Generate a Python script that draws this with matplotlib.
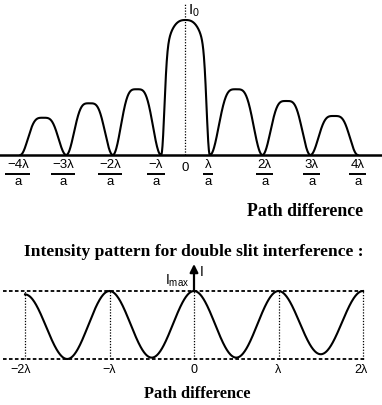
import numpy as np
import matplotlib
matplotlib.use("Agg")
import matplotlib.pyplot as plt

plt.rcParams['font.family'] = ['Liberation Sans', 'DejaVu Sans']
plt.rcParams['mathtext.fontset'] = 'custom'
plt.rcParams['mathtext.rm'] = 'Liberation Sans'
plt.rcParams['mathtext.it'] = 'Liberation Sans:italic'
plt.rcParams['mathtext.bf'] = 'Liberation Sans:bold'

# ---------------- single slit diffraction (schematic) ----------------
ss_edges = [-3.47, -2.50, -1.52, -0.505, 0.526, 1.63, 2.64, 3.64]   # minima positions
ss_heights = [0.276, 0.383, 0.487, 1.0, 0.487, 0.40, 0.289]         # relative peak intensity
ss_tick_pos = [-3.52, -2.57, -1.58, -0.61, 0.0, 0.48, 1.68, 2.67, 3.64]
ss_tick_num = ['−4λ', '−3λ', '−2λ', '−λ', '0', 'λ', '2λ', '3λ', '4λ']
ss_tick_den = ['a', 'a', 'a', 'a', '', 'a', 'a', 'a', 'a']

# ---------------- double slit interference ----------------
ds_x = [-2.0, -1.5, -1.0, -0.5, 0.0, 0.5, 1.0, 1.5, 2.0]
ds_I = [0.95, 0.0, 1.0, 0.02, 1.0, 0.02, 1.0, 0.07, 1.0]
ds_ticks = [-2, -1, 0, 1, 2]
ds_label_pos = [-2.05, -1.0, 0.0, 1.0, 1.98]
ds_labels = ['−2λ', '−λ', '0', 'λ', '2λ']

W, H = 382, 405
fig = plt.figure(figsize=(W / 100, H / 100), dpi=100)

# ---------- top panel ----------
ax1 = fig.add_axes([0, 1 - 200 / H, 1, 200 / H])
ax1.set_xlim(-185 / 47.5, (W - 185) / 47.5)
ax1.set_ylim(-45 / 135, 155 / 135)
ax1.axis('off')

xs_all, ys_all = [], []
for i, h in enumerate(ss_heights):
    a, b = ss_edges[i], ss_edges[i + 1]
    t = np.linspace(0, 1, 300)
    c = np.abs(np.cos(np.pi * t))
    if h == max(ss_heights):
        f = np.cbrt(1 - np.abs(2 * t - 1) ** 2.6) * (1 - c ** 30)
    else:
        f = 1 - c ** 4
    xs_all.append(a + (b - a) * t)
    ys_all.append(h * f)
ax1.plot(np.concatenate(xs_all), np.concatenate(ys_all), color='black', lw=1.5,
         solid_capstyle='round', solid_joinstyle='round')
ax1.axhline(0, color='black', lw=1.8)
ax1.plot([0, 0], [0, 152 / 135], color='black', lw=0.9, ls=(0, (1, 1.3)))
ax1.text(0.06, 1.067, r'$\mathrm{I_0}$', fontsize=11, ha='left', va='center')

fig.canvas.draw()
renderer = fig.canvas.get_renderer()
inv = ax1.transData.inverted()
for p, num, den in zip(ss_tick_pos, ss_tick_num, ss_tick_den):
    if not den:
        ax1.text(p, -13 / 135, num, fontsize=9.5, ha='center', va='center')
        continue
    tn = ax1.text(p, -10 / 135, num, fontsize=9.5, ha='center', va='center')
    ax1.text(p, -27 / 135, den, fontsize=9.5, ha='center', va='center')
    bb = tn.get_window_extent(renderer)
    x0 = inv.transform((bb.x0 - 1.5, 0))[0]
    x1 = inv.transform((bb.x1 + 1.5, 0))[0]
    ax1.plot([x0, x1], [-18.5 / 135, -18.5 / 135], color='black', lw=1.4,
             solid_capstyle='butt')

# ---------- bottom panel ----------
ax2 = fig.add_axes([0, (H - 380) / H, 1, 130 / H])
ax2.set_xlim(-194 / 84.5, (W - 194) / 84.5)
ax2.set_ylim(-21 / 68, 109 / 68)
ax2.axis('off')

dash = (0, (2.0, 1.3))
for yv in (0, 1):
    ax2.plot([-2.26, 2.02], [yv, yv], color='black', lw=1.3, ls=dash)
for xv in ds_ticks:
    ax2.plot([xv, xv], [0, 1], color='black', lw=0.9, ls=(0, (1, 1.3)))

cx, cy = [], []
for i in range(len(ds_x) - 1):
    s = np.linspace(0, 1, 100)
    y0, y1 = ds_I[i], ds_I[i + 1]
    cx.append(ds_x[i] + (ds_x[i + 1] - ds_x[i]) * s)
    cy.append(y0 + (y1 - y0) * (1 - np.cos(np.pi * s)) / 2)
ax2.plot(np.concatenate(cx), np.concatenate(cy), color='black', lw=1.5)

ax2.annotate('', xy=(0, 95 / 68), xytext=(0, 1),
             arrowprops=dict(arrowstyle='-|>', lw=1.6, color='black',
                             mutation_scale=12, shrinkA=0, shrinkB=0))
ax2.text(0.07, 87 / 68, 'I', fontsize=10, ha='left', va='center')
ax2.text(-0.06, 74 / 68, r'$\mathrm{I_{max}}$', fontsize=10, ha='right', va='baseline')

for xv, lab in zip(ds_label_pos, ds_labels):
    ax2.text(xv, -11 / 68, lab, fontsize=9, ha='center', va='center')

serif = dict(family=['Liberation Serif', 'DejaVu Serif'], weight='bold')
fig.text(363 / W, 1 - 216.5 / H, 'Path difference', ha='right', va='baseline',
         fontsize=12.8, **serif)
fig.text(364 / W, 1 - 255.5 / H, 'Intensity pattern for double slit interference :',
         ha='right', va='baseline', fontsize=12.6, **serif)
fig.text(197 / W, 1 - 398 / H, 'Path difference', ha='center', va='baseline',
         fontsize=11.8, **serif)

fig.savefig('out.png', dpi=100)
